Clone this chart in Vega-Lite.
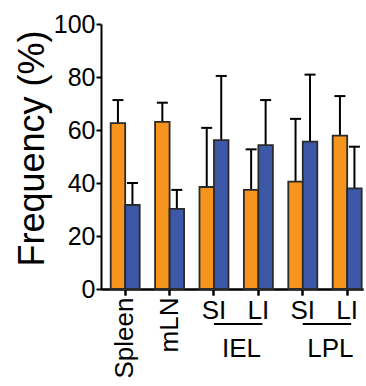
{
  "$schema": "https://vega.github.io/schema/vega-lite/v6.json",
  "autosize": "none",
  "width": 262,
  "height": 265,
  "padding": {"left": 101, "top": 24, "right": 3, "bottom": 97},
  "background": "white",
  "config": {
    "view": {"stroke": null},
    "font": "Liberation Sans",
    "axisX": {
      "title": null,
      "labelFontSize": 26,
      "labelColor": "black",
      "labelPadding": 2,
      "labelOverlap": false,
      "labelBound": false,
      "labelFlush": false,
      "tickSize": 6,
      "tickWidth": 2,
      "tickColor": "black",
      "domainColor": "black",
      "domainWidth": 2
    }
  },
  "resolve": {"axis": {"x": "independent"}},
  "datasets": {
    "frequencies": [
      {"tissue": "Spleen", "population": "P1", "mean": 62.6, "upper": 71.3},
      {"tissue": "Spleen", "population": "P2", "mean": 31.7, "upper": 40.0},
      {"tissue": "mLN", "population": "P1", "mean": 63.1, "upper": 70.3},
      {"tissue": "mLN", "population": "P2", "mean": 30.2, "upper": 37.4},
      {"tissue": "SI_IEL", "population": "P1", "mean": 38.5, "upper": 60.8},
      {"tissue": "SI_IEL", "population": "P2", "mean": 56.2, "upper": 80.4},
      {"tissue": "LI_IEL", "population": "P1", "mean": 37.4, "upper": 52.7},
      {"tissue": "LI_IEL", "population": "P2", "mean": 54.3, "upper": 71.3},
      {"tissue": "SI_LPL", "population": "P1", "mean": 40.5, "upper": 64.2},
      {"tissue": "SI_LPL", "population": "P2", "mean": 55.6, "upper": 80.9},
      {"tissue": "LI_LPL", "population": "P1", "mean": 57.9, "upper": 72.8},
      {"tissue": "LI_LPL", "population": "P2", "mean": 38.0, "upper": 53.7}
    ],
    "compartments": [
      {"from": "SI_IEL", "to": "LI_IEL", "compartment": "IEL"},
      {"from": "SI_LPL", "to": "LI_LPL", "compartment": "LPL"}
    ]
  },
  "layer": [
    {
      "data": {"name": "frequencies"},
      "mark": {"type": "rule", "color": "black", "strokeWidth": 2},
      "encoding": {
        "x": {
          "field": "tissue",
          "type": "nominal",
          "scale": {
            "type": "band",
            "domain": ["Spleen", "mLN", "SI_IEL", "LI_IEL", "SI_LPL", "LI_LPL"],
            "paddingInner": 0.347,
            "paddingOuter": 0.124,
            "align": 0.88
          },
          "axis": {
            "orient": "bottom",
            "labelAngle": 270,
            "labelExpr": "indexof(['Spleen', 'mLN'], datum.value) >= 0 ? datum.value : ''"
          }
        },
        "xOffset": {
          "field": "population",
          "type": "nominal",
          "scale": {"domain": ["P1", "P2"], "paddingInner": 0, "paddingOuter": 0}
        },
        "y": {
          "field": "mean",
          "type": "quantitative",
          "scale": {"domain": [0, 100], "nice": false, "zero": true},
          "axis": {
            "values": [0, 20, 40, 60, 80, 100],
            "grid": false,
            "tickSize": 5,
            "tickWidth": 2,
            "tickColor": "black",
            "domainColor": "black",
            "domainWidth": 2,
            "labelFontSize": 25,
            "labelColor": "black",
            "labelPadding": 1,
            "title": "Frequency (%)",
            "titleFontSize": 36,
            "titleFontWeight": "normal",
            "titleColor": "black",
            "titleAngle": -90,
            "titleAlign": "center",
            "titleBaseline": "alphabetic",
            "titleX": -58,
            "titleY": 124
          }
        },
        "y2": {"field": "upper"}
      }
    },
    {
      "data": {"name": "frequencies"},
      "mark": {"type": "tick", "color": "black", "thickness": 2, "size": 11, "opacity": 1},
      "encoding": {
        "x": {"field": "tissue", "type": "nominal", "axis": null},
        "xOffset": {"field": "population", "type": "nominal"},
        "y": {"field": "upper", "type": "quantitative"}
      }
    },
    {
      "data": {"name": "frequencies"},
      "mark": {"type": "bar", "stroke": "#2a2a2a", "strokeWidth": 1.8},
      "encoding": {
        "x": {
          "field": "tissue",
          "type": "nominal",
          "axis": {
            "orient": "bottom",
            "labelAngle": 0,
            "labelAlign": "center",
            "labelBaseline": "top",
            "labelExpr": "indexof(['Spleen', 'mLN'], datum.value) >= 0 ? '' : split(datum.value, '_')[0]"
          }
        },
        "xOffset": {"field": "population", "type": "nominal"},
        "y": {"field": "mean", "type": "quantitative"},
        "color": {
          "field": "population",
          "type": "nominal",
          "scale": {"domain": ["P1", "P2"], "range": ["#F7941E", "#3D58A7"]},
          "legend": null
        }
      }
    },
    {
      "data": {"name": "compartments"},
      "mark": {"type": "rule", "color": "black", "strokeWidth": 2, "x2Offset": 4},
      "encoding": {
        "x": {"field": "from", "type": "nominal", "bandPosition": 0.5, "axis": null},
        "x2": {"field": "to"},
        "y": {"datum": -13.2, "type": "quantitative"}
      }
    },
    {
      "data": {"name": "compartments"},
      "mark": {"type": "text", "fontSize": 26, "color": "black", "align": "center", "baseline": "alphabetic"},
      "encoding": {
        "x": {"field": "from", "type": "nominal", "bandPosition": 1.45, "axis": null},
        "y": {"datum": -25.5, "type": "quantitative"},
        "text": {"field": "compartment"}
      }
    }
  ]
}
